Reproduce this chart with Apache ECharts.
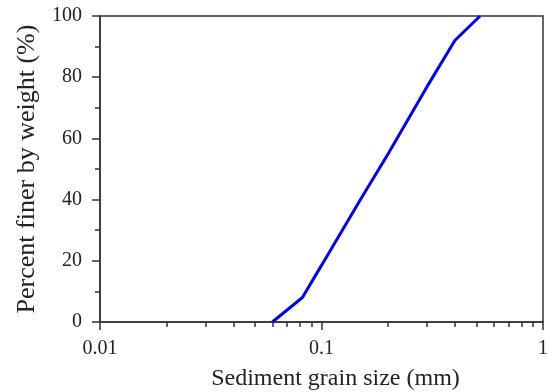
<!DOCTYPE html>
<html>
<head>
<meta charset="utf-8">
<script src="https://cdn.jsdelivr.net/npm/echarts@6/dist/echarts.min.js"></script>
<style>
  html, body { margin: 0; padding: 0; background: #fff; }
  #chart { width: 548px; height: 392px; }
</style>
</head>
<body>
<div id="chart"></div>
<script>
// grain size (mm) vs percent finer
var grainSize = [0.06, 0.082, 0.1, 0.15, 0.2, 0.3, 0.4, 0.52];
var percentFiner = [0, 8, 18.5, 40, 55, 77, 92, 100];
var xMinorTicks = [0.02, 0.03, 0.04, 0.05, 0.06, 0.07, 0.08, 0.09,
  0.2, 0.3, 0.4, 0.5, 0.6, 0.7, 0.8, 0.9];

var fontFamily = '"Liberation Serif", "Times New Roman", serif';
var axisColor = '#333';

var lineData = [];
for (var i = 0; i < grainSize.length; i++) {
  lineData.push([grainSize[i], percentFiner[i]]);
}

var chart = echarts.init(document.getElementById('chart'));
var option = {
  animation: false,
  grid: {
    left: 100, top: 16, right: 5, bottom: 70,
    outerBoundsMode: 'none',
    show: true, borderColor: axisColor, borderWidth: 1.5,
    backgroundColor: 'transparent'
  },
  xAxis: [{
    type: 'log',
    logBase: 10,
    min: 0.01,
    max: 1,
    name: 'Sediment grain size (mm)',
    nameLocation: 'middle',
    nameGap: 45,
    nameTextStyle: { fontFamily: fontFamily, fontSize: 24, color: '#222', padding: [0, 0, 0, 28] },
    axisLine: { lineStyle: { color: axisColor, width: 1.5 } },
    axisTick: { inside: false, length: 8, lineStyle: { color: axisColor, width: 1.5 } },
    axisLabel: { fontFamily: fontFamily, fontSize: 20, color: '#222', margin: 17,
      formatter: function(v) { return String(v); } },
    splitLine: { show: false }
  }, {
    // minor ticks of log axis
    type: 'log',
    logBase: 10,
    min: 0.01,
    max: 1,
    position: 'bottom',
    axisLine: { show: false },
    axisTick: { show: true, length: 5, customValues: xMinorTicks,
      lineStyle: { color: axisColor, width: 1.5 } },
    axisLabel: { show: false },
    splitLine: { show: false }
  }],
  yAxis: {
    type: 'value',
    min: 0,
    max: 100,
    interval: 20,
    name: 'Percent finer by weight (%)',
    nameLocation: 'middle',
    nameGap: 60,
    nameTextStyle: { fontFamily: fontFamily, fontSize: 26, color: '#222' },
    axisLine: { show: true, lineStyle: { color: axisColor, width: 1.5 } },
    axisTick: { show: true, inside: false, length: 8, lineStyle: { color: axisColor, width: 1.5 } },
    minorTick: { show: true, splitNumber: 2, length: 5, lineStyle: { color: axisColor, width: 1.5 } },
    axisLabel: { fontFamily: fontFamily, fontSize: 20, color: '#222', margin: 18 },
    splitLine: { show: false }
  },
  series: [{
    type: 'line',
    xAxisIndex: 0,
    data: lineData,
    showSymbol: false,
    lineStyle: { color: '#0000ff', width: 3 },
    clip: false
  }]
};
chart.setOption(option);
</script>
</body>
</html>
